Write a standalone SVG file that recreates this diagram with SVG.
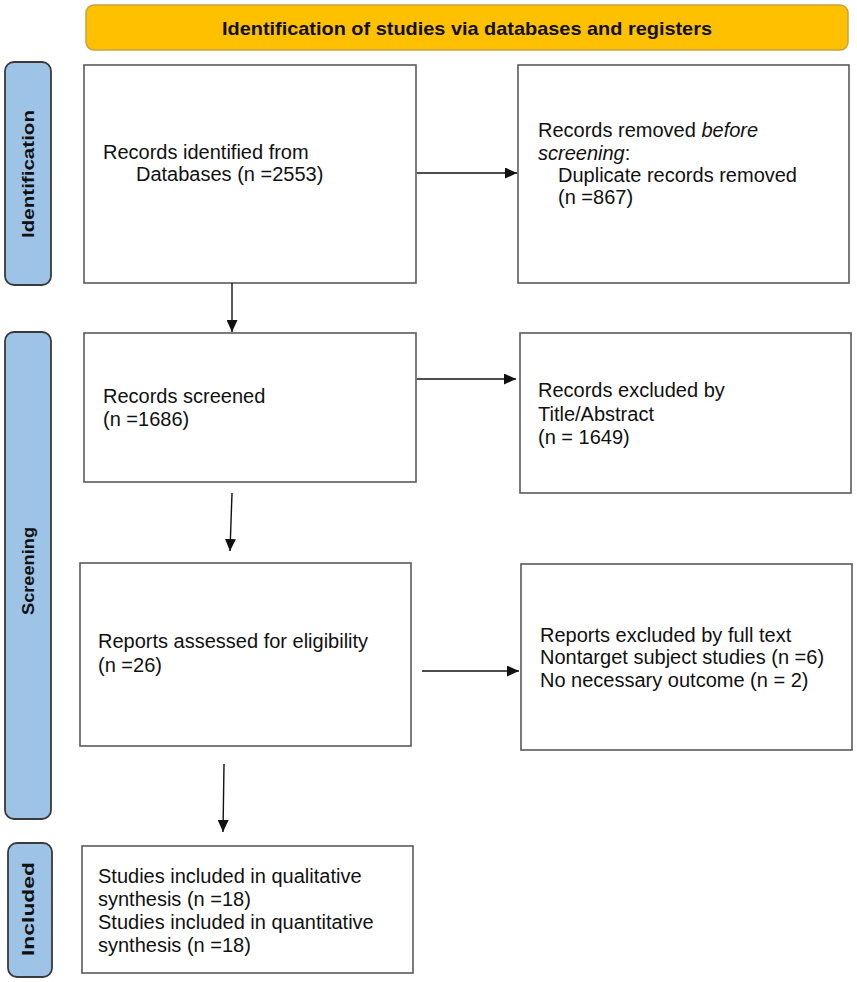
<svg xmlns="http://www.w3.org/2000/svg" width="857" height="982" viewBox="0 0 857 982">
<style>
.box{fill:#fff;stroke:#5a5a5a;stroke-width:1.6}
.pill{fill:#9dc3e6;stroke:#3a3a3a;stroke-width:1.8}
.t{font-family:"Liberation Sans",Arial,sans-serif;font-size:20px;fill:#111}
.lbl{font-family:"Liberation Sans",Arial,sans-serif;font-size:16px;font-weight:bold;fill:#111}
.con{stroke:#111;stroke-width:1.4;fill:none;marker-end:url(#ah)}
</style>
<defs>
<marker id="ah" markerUnits="userSpaceOnUse" markerWidth="12" markerHeight="11" refX="12" refY="5.5" orient="auto">
<path d="M0,0 L12,5.5 L0,11 z" fill="#111"/>
</marker>
</defs>
<rect width="857" height="982" fill="#fff"/>
<g id="banner">
<rect x="86" y="5" width="762" height="45" rx="8" fill="#ffc000" stroke="#c8a23c" stroke-width="1.5"/>
<text x="467" y="35" text-anchor="middle" font-family="'Liberation Sans',Arial,sans-serif" font-size="19" font-weight="bold" fill="#111" textLength="490" lengthAdjust="spacingAndGlyphs">Identification of studies via databases and registers</text>
</g>
<g id="phase-identification">
<rect class="pill" x="5" y="62" width="46" height="223" rx="9"/>
<text class="lbl" transform="translate(34,174) rotate(-90)" text-anchor="middle" textLength="128" lengthAdjust="spacingAndGlyphs">Identification</text>
</g>
<g id="phase-screening">
<rect class="pill" x="5" y="332" width="46" height="487" rx="9"/>
<text class="lbl" transform="translate(34,571) rotate(-90)" text-anchor="middle" textLength="88" lengthAdjust="spacingAndGlyphs">Screening</text>
</g>
<g id="phase-included">
<rect class="pill" x="8" y="843" width="44" height="134" rx="9"/>
<text class="lbl" transform="translate(34,909) rotate(-90)" text-anchor="middle" textLength="94" lengthAdjust="spacingAndGlyphs">Included</text>
</g>
<g id="records-identified">
<rect class="box" x="84" y="65" width="332" height="218"/>
<text class="t" x="103" y="159">Records identified from</text>
<text class="t" x="136" y="181">Databases (n =2553)</text>
</g>
<g id="records-removed">
<rect class="box" x="518" y="65" width="331" height="218"/>
<text class="t" x="538" y="137">Records removed <tspan font-style="italic">before</tspan></text>
<text class="t" x="538" y="160"><tspan font-style="italic">screening</tspan>:</text>
<text class="t" x="558" y="182">Duplicate records removed</text>
<text class="t" x="558" y="204">(n =867)</text>
</g>
<g id="records-screened">
<rect class="box" x="84" y="333" width="332" height="149"/>
<text class="t" x="103" y="403">Records screened</text>
<text class="t" x="103" y="426">(n =1686)</text>
</g>
<g id="records-excluded">
<rect class="box" x="520" y="333" width="331" height="160"/>
<text class="t" x="538" y="397">Records excluded by</text>
<text class="t" x="538" y="421">Title/Abstract</text>
<text class="t" x="538" y="444">(n = 1649)</text>
</g>
<g id="reports-assessed">
<rect class="box" x="80" y="563" width="331" height="183"/>
<text class="t" x="98" y="648">Reports assessed for eligibility</text>
<text class="t" x="98" y="672">(n =26)</text>
</g>
<g id="reports-excluded">
<rect class="box" x="521" y="564" width="331" height="186"/>
<text class="t" x="540" y="642">Reports excluded by full text</text>
<text class="t" x="540" y="664">Nontarget subject studies (n =6)</text>
<text class="t" x="540" y="687">No necessary outcome (n = 2)</text>
</g>
<g id="studies-included">
<rect class="box" x="82" y="846" width="331" height="127"/>
<text class="t" x="98" y="883">Studies included in qualitative</text>
<text class="t" x="98" y="906">synthesis (n =18)</text>
<text class="t" x="98" y="929">Studies included in quantitative</text>
<text class="t" x="98" y="952">synthesis (n =18)</text>
</g>
<g id="connectors">
<line class="con" x1="232" y1="283" x2="232" y2="332"/>
<line class="con" x1="417" y1="173" x2="517" y2="173"/>
<line class="con" x1="417" y1="379" x2="516" y2="379"/>
<line class="con" x1="232" y1="493" x2="230" y2="551"/>
<line class="con" x1="422" y1="671" x2="519" y2="671"/>
<line class="con" x1="224" y1="764" x2="223" y2="832"/>
</g>
</svg>
